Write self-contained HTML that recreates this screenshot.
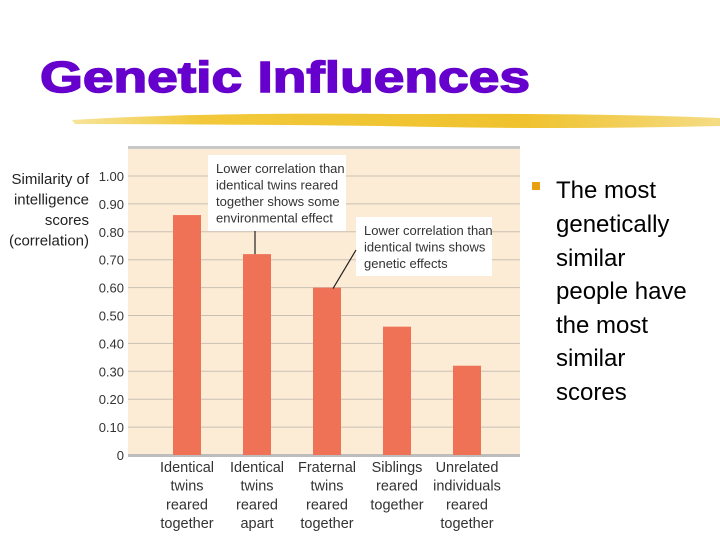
<!DOCTYPE html>
<html><head><meta charset="utf-8"><style>
body{margin:0;background:#fff;width:720px;height:540px;overflow:hidden;font-family:"Liberation Sans",sans-serif}
</style></head><body>
<svg width="720" height="540" viewBox="0 0 720 540" xmlns="http://www.w3.org/2000/svg">
<defs><linearGradient id="brush" x1="0" x2="1" y1="0" y2="0">
<stop offset="0" stop-color="#f7e49a"/><stop offset="0.2" stop-color="#f2c83a"/><stop offset="0.7" stop-color="#efc22e"/><stop offset="1" stop-color="#f5dc84"/></linearGradient></defs>
<text x="40" y="92" font-family="Liberation Sans, sans-serif" font-weight="bold" font-size="44" fill="#6600cc" stroke="#6600cc" stroke-width="1.5" textLength="490" lengthAdjust="spacingAndGlyphs">Genetic Influences</text>
<path d="M72 120 Q200 112 400 114 Q600 113 720 118 L720 126 Q560 130 380 126 Q200 124 75 124 Z" fill="url(#brush)"/>
<g id="chart"></g>
<g font-family="Liberation Sans, sans-serif" font-size="24" fill="#000">
<rect x="532" y="182" width="8" height="8" fill="#e8a010"/>
<text x="556" y="198">The most</text><text x="556" y="232">genetically</text><text x="556" y="266">similar</text><text x="556" y="299">people have</text><text x="556" y="333">the most</text><text x="556" y="366">similar</text><text x="556" y="400">scores</text>
</g>
</svg>
<script>
const categories=[["Identical","twins","reared","together"],["Identical","twins","reared","apart"],["Fraternal","twins","reared","together"],["Siblings","reared","together"],["Unrelated","individuals","reared","together"]];
const values=[0.86,0.72,0.60,0.46,0.32];
const tickValues=[0,0.1,0.2,0.3,0.4,0.5,0.6,0.7,0.8,0.9,1.0];
const tickLabels=["0","0.10","0.20","0.30","0.40","0.50","0.60","0.70","0.80","0.90","1.00"];
const NS="http://www.w3.org/2000/svg";
const g=document.getElementById('chart');
const X0=128,X1=520,Ytop=148,Y0=455,Y1=176;
const y=v=>Y0-(Y0-Y1)*v;
const step=70;
const xc=i=>187+step*i;
function mk(t,a){const e=document.createElementNS(NS,t);for(const k in a)e.setAttribute(k,a[k]);g.appendChild(e);return e;}
let bg=mk('rect',{x:X0,y:Ytop,width:X1-X0,height:Y0-Ytop,fill:'#fcecd6'});


let tl=mk('rect',{x:X0,y:Ytop-2,width:X1-X0,height:3,fill:'#c8c8c8'});


tickValues.forEach((v,i)=>{
 if(v>0){const l=mk('line',{x1:X0,x2:X1,y1:y(v),y2:y(v),stroke:'#c9c0b4','stroke-width':1});
 
 }
 const t=mk('text',{x:124,y:y(v)+5,'text-anchor':'end','font-size':13,fill:'#333','font-family':'Liberation Sans Narrow, Liberation Sans, sans-serif'});
 t.textContent=tickLabels[i];
 
 
});
let ax=mk('rect',{x:X0,y:Y0-1,width:X1-X0,height:3,fill:'#bdbdbd'});


["Similarity of","intelligence","scores","(correlation)"].forEach((s,i)=>{
 const t=mk('text',{x:89,y:184+i*20.5,'text-anchor':'end','font-size':15,fill:'#222','font-family':'Liberation Sans Narrow, Liberation Sans, sans-serif'});
 t.textContent=s;
 
 
});
values.forEach((v,i)=>{
 const b=mk('rect',{x:xc(i)-14,y:y(v),width:28,height:y(0)-y(v),fill:'#ef7256'});
 
 
 categories[i].forEach((s,j)=>{
  const t=mk('text',{x:xc(i),y:472+j*18.7,'text-anchor':'middle','font-size':14.5,fill:'#333','font-family':'Liberation Sans Narrow, Liberation Sans, sans-serif'});
  t.textContent=s;
  
  
 });
});
function note(x,yy,w,h,lines,name){
 const r=mk('rect',{x:x,y:yy,width:w,height:h,fill:'#fff'});
 
 
 lines.forEach((s,i)=>{const t=mk('text',{x:x+8,y:yy+18+i*16.5,'font-size':13,fill:'#333','font-family':'Liberation Sans Narrow, Liberation Sans, sans-serif'});
 t.textContent=s;
 
 });
}
note(208,155,138,76,["Lower correlation than","identical twins reared","together shows some","environmental effect"],'annotation-box-environment');
note(356,217,136,59,["Lower correlation than","identical twins shows","genetic effects"],'annotation-box-genetic');
let l1=mk('line',{x1:255,y1:231,x2:255,y2:y(values[1]),stroke:'#222','stroke-width':1.2});


let l2=mk('line',{x1:356,y1:250,x2:333,y2:y(values[2])+1,stroke:'#222','stroke-width':1.2});


</script>
</body></html>
